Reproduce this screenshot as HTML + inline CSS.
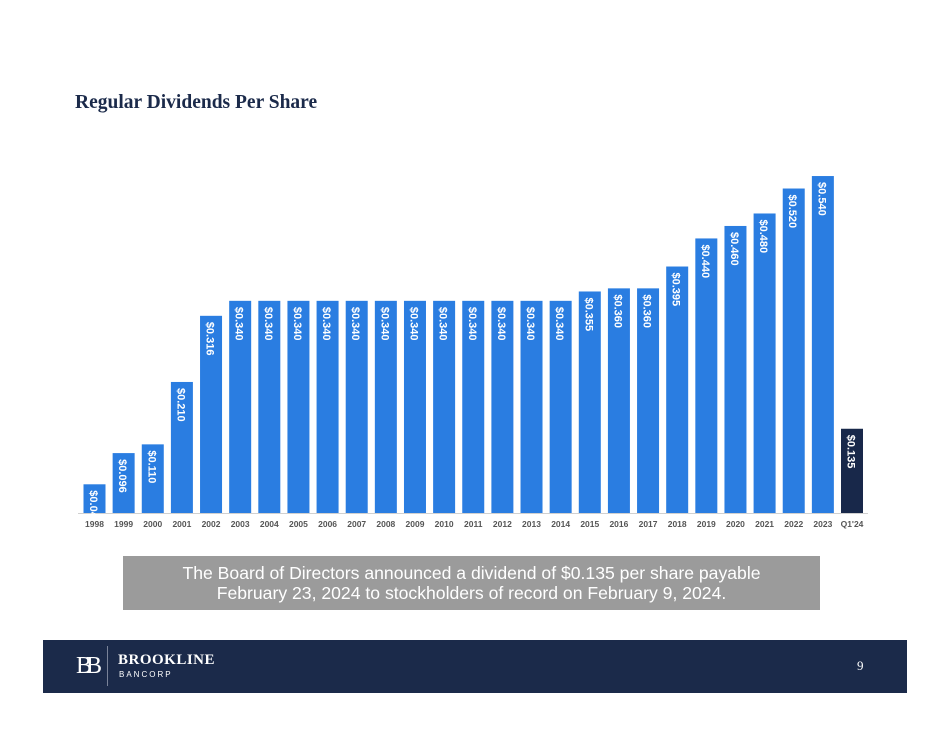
<!DOCTYPE html>
<html><head><meta charset="utf-8"><style>
body{margin:0;width:950px;height:737px;background:#fff;position:relative;overflow:hidden;font-family:"Liberation Sans",sans-serif}
#title{position:absolute;left:75px;top:92px;font-family:"Liberation Serif",serif;font-weight:bold;font-size:19.5px;color:#1b2a4a;letter-spacing:0px}
#note{position:absolute;left:123px;top:556px;width:697px;height:54px;background:#9b9b9b;color:#fff;font-size:17.6px;text-align:center;line-height:20px;padding-top:7px;box-sizing:border-box}
#footer{position:absolute;left:43px;top:640px;width:864px;height:53px;background:#1b2a4a}
</style></head><body>
<div id="title">Regular Dividends Per Share</div>
<svg id="chart" width="950" height="540" style="position:absolute;left:0;top:0"></svg>
<div id="note">The Board of Directors announced a dividend of $0.135 per share payable<br>February 23, 2024 to stockholders of record on February 9, 2024.</div>
<div id="footer">
 <div style="position:absolute;left:33px;top:13px;font-family:'Liberation Serif',serif;font-size:24px;color:#fff;letter-spacing:-6px">BB</div>
 <div style="position:absolute;left:64px;top:6px;width:1px;height:40px;background:#7a8399"></div>
 <div style="position:absolute;left:75px;top:12px;font-family:'Liberation Serif',serif;font-weight:bold;font-size:15px;color:#fff;letter-spacing:0.5px">BROOKLINE</div>
 <div style="position:absolute;left:76px;top:30px;font-size:8px;color:#fff;letter-spacing:2px">BANCORP</div>
 <div style="position:absolute;left:814px;top:18px;font-family:'Liberation Serif',serif;font-size:13px;color:#fff">9</div>
</div>
<script>
const categories=["1998","1999","2000","2001","2002","2003","2004","2005","2006","2007","2008","2009","2010","2011","2012","2013","2014","2015","2016","2017","2018","2019","2020","2021","2022","2023","Q1'24"];
const values=[0.046,0.096,0.110,0.210,0.316,0.340,0.340,0.340,0.340,0.340,0.340,0.340,0.340,0.340,0.340,0.340,0.340,0.355,0.360,0.360,0.395,0.440,0.460,0.480,0.520,0.540,0.135];
const labels=["$0.046","$0.096","$0.110","$0.210","$0.316","$0.340","$0.340","$0.340","$0.340","$0.340","$0.340","$0.340","$0.340","$0.340","$0.340","$0.340","$0.340","$0.355","$0.360","$0.360","$0.395","$0.440","$0.460","$0.480","$0.520","$0.540","$0.135"];
const ns="http://www.w3.org/2000/svg";
const svg=document.getElementById('chart');
const base=513, scale=624, x0=94.5, step=(852-94.5)/(categories.length-1), bw=22;
const xc=i=>x0+i*step, yv=v=>base-v*scale;
const ax=document.createElementNS(ns,'line');


ax.setAttribute('x1',78);ax.setAttribute('x2',868);ax.setAttribute('y1',base+0.5);ax.setAttribute('y2',base+0.5);ax.setAttribute('stroke','#d0d0d0');
svg.appendChild(ax);
categories.forEach((c,i)=>{
 const r=document.createElementNS(ns,'rect');
 
 
 r.setAttribute('x',xc(i)-bw/2);r.setAttribute('y',yv(values[i]));r.setAttribute('width',bw);r.setAttribute('height',values[i]*scale);
 r.setAttribute('fill',i==categories.length-1?'#18284a':'#2a7de1');
 svg.appendChild(r);
 const t=document.createElementNS(ns,'text');
 
 
 const ty=yv(values[i])+6;
 t.setAttribute('transform',`translate(${xc(i)-4.5},${ty}) rotate(90)`);
 t.setAttribute('font-size','11');t.setAttribute('font-weight','bold');t.setAttribute('fill','#fff');
 t.setAttribute('font-family','Liberation Sans, sans-serif');
 t.textContent=labels[i];
 svg.appendChild(t);
 const l=document.createElementNS(ns,'text');
 
 
 l.setAttribute('x',xc(i));l.setAttribute('y',527);l.setAttribute('text-anchor','middle');
 l.setAttribute('font-size','8.5');l.setAttribute('font-weight','bold');l.setAttribute('fill','#555');
 l.setAttribute('font-family','Liberation Sans, sans-serif');
 l.textContent=c;
 svg.appendChild(l);
});
</script>
</body></html>
